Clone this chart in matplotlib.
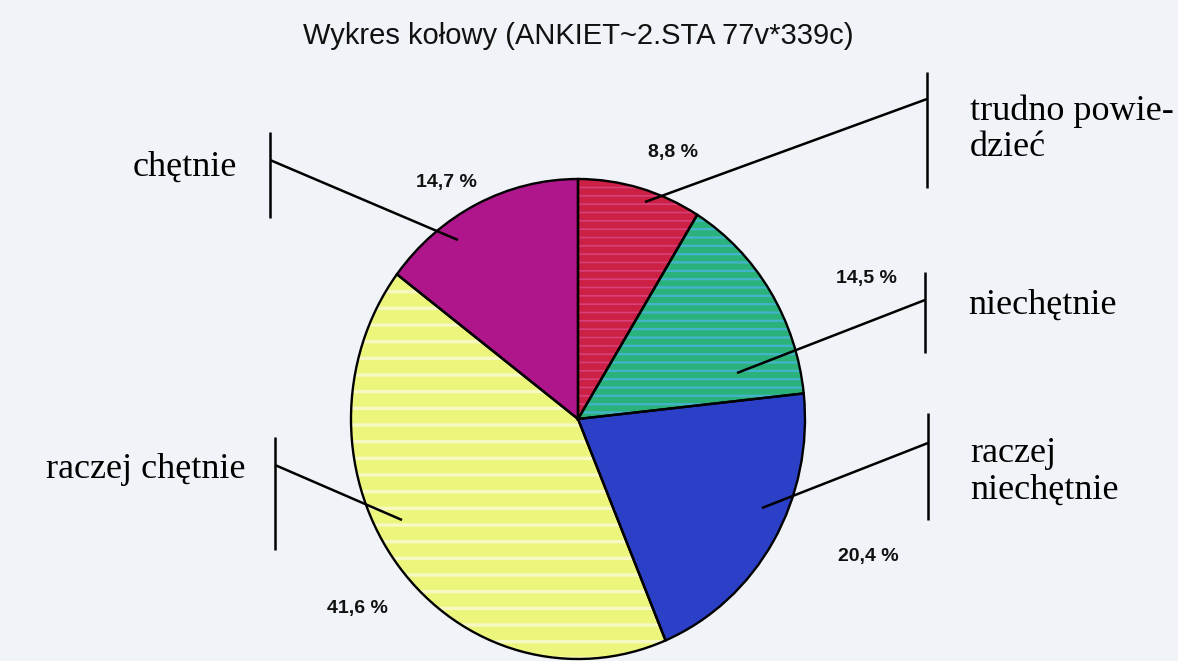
import matplotlib
matplotlib.use("Agg")
import matplotlib.pyplot as plt

# ---------------- data ----------------
categories = ["trudno powie-\ndzieć", "niechętnie", "raczej\nniechętnie",
              "raczej chętnie", "chętnie"]
values = [8.8, 14.5, 20.4, 41.6, 14.7]
pct_labels = ["8,8 %", "14,5 %", "20,4 %", "41,6 %", "14,7 %"]
title = "Wykres kołowy (ANKIET~2.STA 77v*339c)"

# ---------------- style ----------------
colors = ["#cc2044", "#2ab27a", "#2b40c6", "#ecf57c", "#b0168c"]
stripe_colors = ["#d8407a", "#44b4cc", "#2b40c6", "#f6f9c4", "#b0168c"]
hatches = ["--", "--", "", "-", ""]
hatch_lw = [1.2, 1.6, 0.0, 2.4, 0.0]
bg = "#f0f3f8"

W, H = 1178, 661
fig = plt.figure(figsize=(W / 100, H / 100), dpi=100, facecolor=bg)

# pie geometry in pixels (ellipse bounding box)
cx, cy, rx, ry = 578, 419, 227, 240

def ax_rect(x0, y0, w, h):
    return [x0 / W, 1 - (y0 + h) / H, w / W, h / H]

pax = fig.add_axes(ax_rect(cx - rx, cy - ry, 2 * rx, 2 * ry))
pax.set_facecolor("none")

# fill
wedges, _ = pax.pie(values, colors=colors, startangle=90, counterclock=False,
                    radius=1, wedgeprops=dict(linewidth=0))
# stripes (one pie layer per hatch width)
for i, (hc, ht, hl) in enumerate(zip(stripe_colors, hatches, hatch_lw)):
    if not ht:
        continue
    plt.rcParams["hatch.linewidth"] = hl
    ws, _ = pax.pie(values, colors=["none"] * len(values), startangle=90,
                    counterclock=False, radius=1, wedgeprops=dict(linewidth=0))
    for j, w in enumerate(ws):
        w.set_facecolor("none")
        w.set_linewidth(0)
        if j == i:
            w.set_edgecolor(hc)
            w.set_hatch(ht)
            if hasattr(w, "set_hatch_linewidth"):
                w.set_hatch_linewidth(hl)
        else:
            w.set_visible(False)
# outlines
pax.pie(values, colors=["none"] * len(values), startangle=90, counterclock=False,
        radius=1, wedgeprops=dict(linewidth=1.7, edgecolor="black", fill=False))
pax.set_aspect("auto")
pax.set_xlim(-1, 1)
pax.set_ylim(-1, 1)
pax.axis("off")

# overlay in pixel coords
ov = fig.add_axes([0, 0, 1, 1])
ov.set_xlim(0, W)
ov.set_ylim(H, 0)
ov.axis("off")
ov.set_facecolor("none")

ov.text(578, 36, title, ha="center", va="center", fontsize=21,
        family="Liberation Sans", color="#111111")

# leader layout: anchor in slice, bar x, bar top, bar bottom, join y, text x, text y, align
layout = [
    ((645, 202), 927, 72, 188, 99, 970, 129, "left"),
    ((737, 373), 925, 272, 353, 300, 968, 305, "left"),
    ((762, 508), 928, 413, 520, 443, 970, 472, "left"),
    ((402, 520), 275, 437, 550, 465, 245, 470, "right"),
    ((458, 240), 270, 132, 218, 160, 237, 167, "right"),
]
pct_pos = [(673, 153), (866, 278), (868, 557), (357, 608), (446, 182)]

for lab, (anc, bx, bt, bb, jy, tx, ty, al) in zip(categories, layout):
    ov.plot([anc[0], bx], [anc[1], jy], color="black", lw=1.8, solid_capstyle="butt")
    ov.plot([bx, bx], [bt, bb], color="black", lw=1.8, solid_capstyle="butt")
    ov.text(tx, ty, lab, ha=al, va="center", fontsize=26, family="Liberation Serif",
            linespacing=1.12, color="black")

for p, (px, py) in zip(pct_labels, pct_pos):
    ov.text(px, py, p, ha="center", va="center", fontsize=14, fontweight="bold",
            family="Liberation Sans", color="#111111")

fig.savefig("out.png", dpi=100, facecolor=bg)
